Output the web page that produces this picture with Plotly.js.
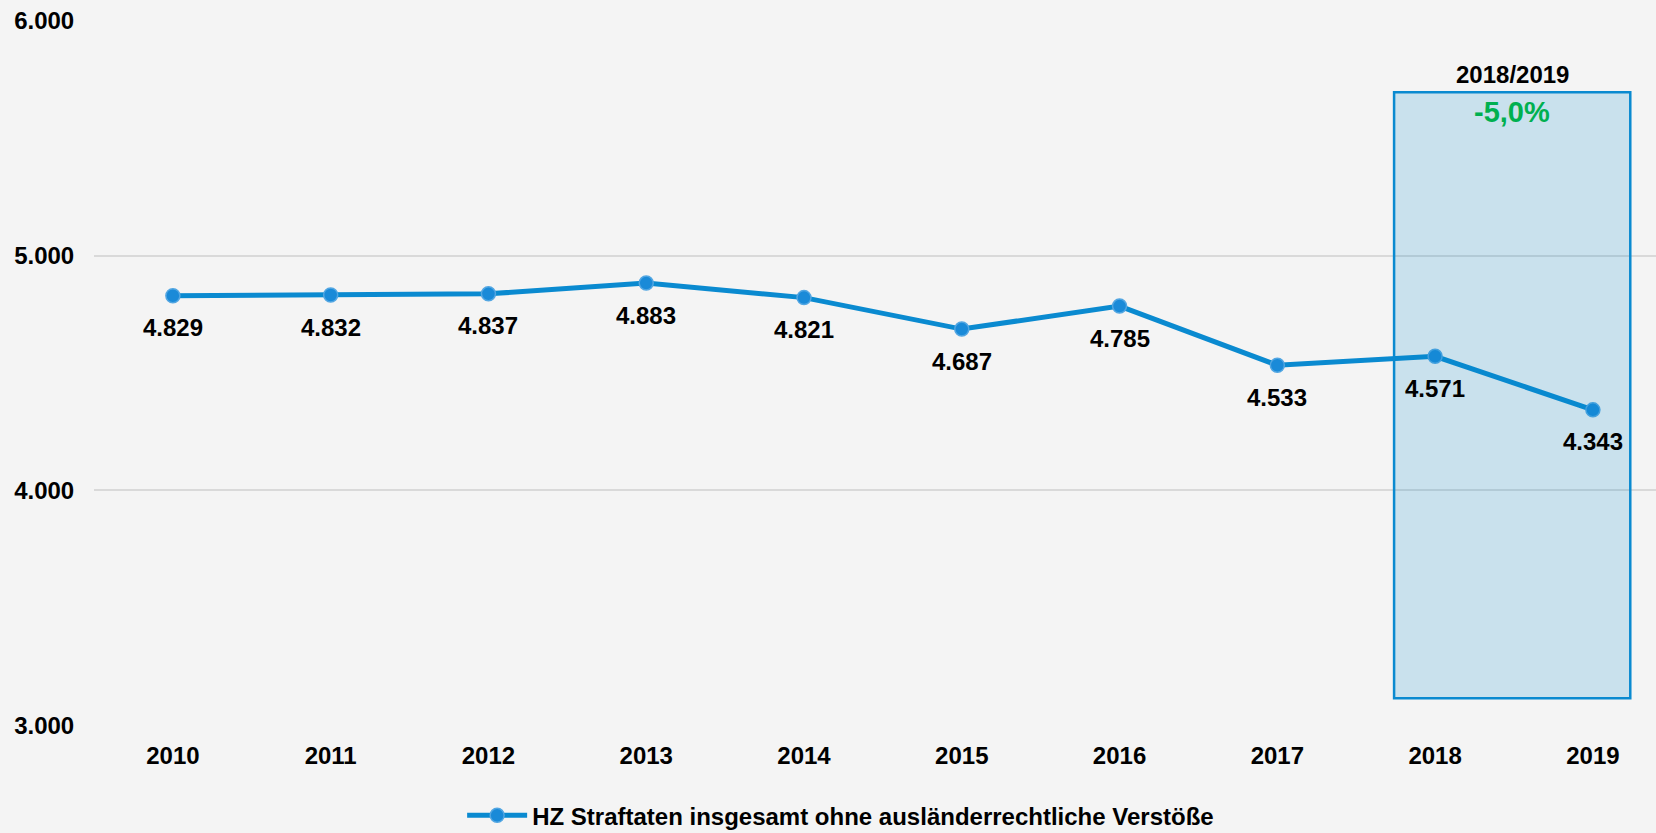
<!DOCTYPE html>
<html>
<head>
<meta charset="utf-8">
<script src="https://cdn.plot.ly/plotly-3.0.1.min.js"></script>
<style>html,body{margin:0;padding:0;background:#f4f4f4;}#chart{width:1656px;height:833px;}</style>
</head>
<body>
<div id="chart"></div>
<script>
const years = ["2010","2011","2012","2013","2014","2015","2016","2017","2018","2019"];
const values = [4829, 4832, 4837, 4883, 4821, 4687, 4785, 4533, 4571, 4343];
const valueLabels = ["4.829","4.832","4.837","4.883","4.821","4.687","4.785","4.533","4.571","4.343"];
const yTicks = [3000, 4000, 5000, 6000];
const yTickLabels = ["3.000","4.000","5.000","6.000"];
const seriesName = "HZ Straftaten insgesamt ohne ausländerrechtliche Verstöße";
const compareLabel = "2018/2019";
const changeLabel = "-5,0%";

const font = "Liberation Sans, Arial, sans-serif";

const trace = {
  x: years, y: values, type: "scatter", mode: "lines+markers", name: seriesName,
  line: {color: "#0a8ad0", width: 5},
  marker: {size: 14, color: "#1a8ad8", line: {color: "#52a6e2", width: 1.5}},
  hoverinfo: "skip"
};

const annotations = years.map((yr, i) => ({
  x: i, y: values[i], xref: "x", yref: "y", text: "<b>" + valueLabels[i] + "</b>",
  showarrow: false, yshift: -32, font: {family: font, size: 24, color: "#000"}
}));
annotations.push({x: 8.49, y: 5695, xref: "x", yref: "y", yanchor: "bottom", yshift: 2, showarrow: false,
  text: "<b>" + compareLabel + "</b>", font: {family: font, size: 24, color: "#000"}});
annotations.push({x: 8.49, y: 5695, xref: "x", yref: "y", yanchor: "top", yshift: -2, showarrow: false,
  text: "<b>" + changeLabel + "</b>", font: {family: font, size: 29, color: "#00b050"}});

const layout = {
  width: 1656, height: 833,
  paper_bgcolor: "#f4f4f4", plot_bgcolor: "#f4f4f4",
  margin: {l: 94, r: 0, t: 20, b: 107, autoexpand: false},
  showlegend: true,
  legend: {orientation: "h", x: 0.478, xanchor: "center", y: -0.159, yanchor: "bottom",
    itemwidth: 60, borderwidth: 0,
    font: {family: font, size: 24, color: "#000", weight: "bold"}, bgcolor: "rgba(0,0,0,0)"},
  xaxis: {type: "category", range: [-0.5, 9.40], showgrid: false, zeroline: false, showline: false,
    ticks: "outside", ticklen: 8, tickcolor: "rgba(0,0,0,0)",
    tickfont: {family: font, size: 24, color: "#000", weight: "bold"}},
  yaxis: {range: [2997, 6003], tickvals: yTicks, ticktext: yTickLabels,
    showgrid: true, gridcolor: "#d9d9d9", gridwidth: 2, zeroline: false, showline: false,
    ticks: "outside", ticklen: 14, tickcolor: "rgba(0,0,0,0)",
    tickfont: {family: font, size: 24, color: "#000", weight: "bold"}},
  shapes: [{type: "rect", xref: "x", yref: "y", x0: 7.74, x1: 9.237, y0: 3115, y1: 5695,
    fillcolor: "rgba(0,136,204,0.176)", line: {color: "#0a8ad0", width: 2.5}, layer: "above"}],
  annotations: annotations
};

Plotly.newPlot("chart", [trace], layout, {displayModeBar: false, staticPlot: true});
</script>
</body>
</html>
